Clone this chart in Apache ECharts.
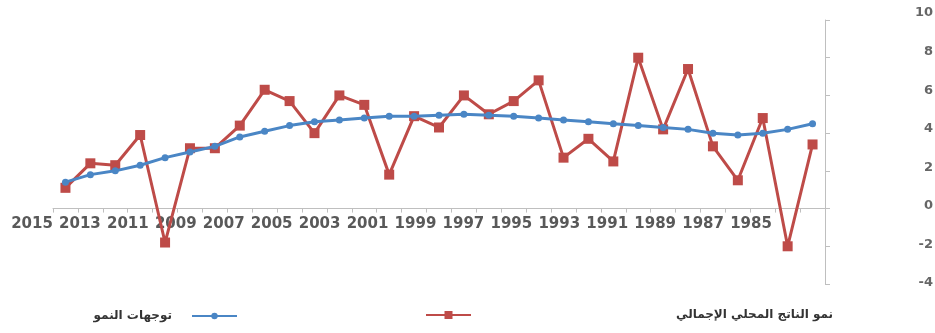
<!DOCTYPE html>
<html>
<head>
<meta charset="utf-8">
<script src="https://cdn.jsdelivr.net/npm/echarts@6/dist/echarts.min.js"></script>
<style>
  html, body { margin: 0; padding: 0; background: #ffffff; }
  #chart { width: 935px; height: 333px; }
</style>
</head>
<body>
<div id="chart"></div>
<script>
// Years plotted, newest on the left
const years = ['2014', '2013', '2012', '2011', '2010', '2009', '2008', '2007', '2006', '2005',
               '2004', '2003', '2002', '2001', '2000', '1999', '1998', '1997', '1996', '1995',
               '1994', '1993', '1992', '1991', '1990', '1989', '1988', '1987', '1986', '1985', '1984'];

// Year labels printed under the axis (every second year)
const yearLabels = ['2015', '2013', '2011', '2009', '2007', '2005', '2003', '2001',
                    '1999', '1997', '1995', '1993', '1991', '1989', '1987', '1985'];

// Real GDP growth, %
const gdpGrowth = [1.1, 2.4, 2.3, 3.9, -1.8, 3.2, 3.2, 4.4, 6.3, 5.7,
                   4.0, 6.0, 5.5, 1.8, 4.9, 4.3, 6.0, 5.0, 5.7, 6.8,
                   2.7, 3.7, 2.5, 8.0, 4.2, 7.4, 3.3, 1.5, 4.8, -2.0, 3.4];

// Growth trend, %
const growthTrend = [1.4, 1.8, 2.0, 2.3, 2.7, 3.0, 3.3, 3.8, 4.1, 4.4,
                     4.6, 4.7, 4.8, 4.9, 4.9, 4.95, 5.0, 4.95, 4.9, 4.8,
                     4.7, 4.6, 4.5, 4.4, 4.3, 4.2, 4.0, 3.9, 4.0, 4.2, 4.5];

// Value axis range
const yMin = -4;
const yMax = 10;
const yStep = 2;

const seriesNames = ['نمو الناتج المحلي الإجمالي', 'توجهات النمو'];

const RED = '#be4b48';
const BLUE = '#4a86c5';
const AXIS = '#bfbfbf';
const FONT = 'DejaVu Sans';

const chart = echarts.init(document.getElementById('chart'), null, { renderer: 'canvas' });

chart.setOption({
  animation: false,
  backgroundColor: '#ffffff',
  grid: [
    // plot area
    { left: 53, right: 110, top: 20, bottom: 49, outerBoundsMode: 'none' },
    // value labels column
    { left: 53, right: 110, top: 13, bottom: 50, outerBoundsMode: 'none' },
    // year labels row
    { left: 32, right: 184, top: 100, bottom: 124, outerBoundsMode: 'none' }
  ],
  xAxis: [
    {
      gridIndex: 0, type: 'category', data: years, boundaryGap: true,
      axisLine: { show: true, onZero: true, lineStyle: { color: AXIS, width: 1 } },
      axisTick: { show: true, interval: 0, length: 4, lineStyle: { color: AXIS } },
      axisLabel: { show: false },
      splitLine: { show: false }
    },
    { gridIndex: 1, type: 'category', data: years, show: false },
    {
      gridIndex: 2, type: 'category', data: yearLabels, boundaryGap: false,
      axisLine: { show: false }, axisTick: { show: false }, splitLine: { show: false },
      axisLabel: {
        interval: 0, margin: 8,
        fontFamily: FONT, fontWeight: 'bold', fontSize: 15, color: '#595959'
      }
    }
  ],
  yAxis: [
    {
      gridIndex: 0, type: 'value', position: 'right',
      min: yMin, max: yMax, interval: yStep,
      axisLine: { show: true, lineStyle: { color: AXIS, width: 1 } },
      axisTick: { show: true, length: 5, lineStyle: { color: AXIS } },
      axisLabel: { show: false },
      splitLine: { show: false }
    },
    {
      gridIndex: 1, type: 'value', position: 'right',
      min: yMin, max: yMax, interval: yStep,
      axisLine: { show: false }, axisTick: { show: false }, splitLine: { show: false },
      axisLabel: {
        margin: 108, align: 'right',
        fontFamily: FONT, fontWeight: 'bold', fontSize: 13, color: '#666666'
      }
    },
    { gridIndex: 2, type: 'value', show: false, min: 0, max: 1 }
  ],
  legend: [
    {
      data: [seriesNames[1]],
      right: 697, top: 310, padding: 0,
      align: 'right', itemWidth: 45, itemHeight: 8,
      lineStyle: { width: 2 },
      textStyle: { fontFamily: FONT, fontSize: 12, fontWeight: 'bold', color: '#333333', padding: [0, 15, 0, 0] }
    },
    {
      data: [seriesNames[0]],
      left: 425, top: 309, padding: 0,
      align: 'left', itemWidth: 45, itemHeight: 10,
      lineStyle: { width: 2 },
      textStyle: { fontFamily: FONT, fontSize: 12, fontWeight: 'bold', color: '#333333', padding: [0, 0, 0, 200] }
    }
  ],
  series: [
    {
      name: seriesNames[0], type: 'line', xAxisIndex: 0, yAxisIndex: 0,
      data: gdpGrowth, symbol: 'rect', symbolSize: 10,
      lineStyle: { color: RED, width: 3 },
      itemStyle: { color: RED },
      z: 2
    },
    {
      name: seriesNames[1], type: 'line', xAxisIndex: 0, yAxisIndex: 0,
      data: growthTrend, symbol: 'circle', symbolSize: 7,
      lineStyle: { color: BLUE, width: 3 },
      itemStyle: { color: BLUE },
      z: 3
    }
  ]
});
</script>
</body>
</html>
